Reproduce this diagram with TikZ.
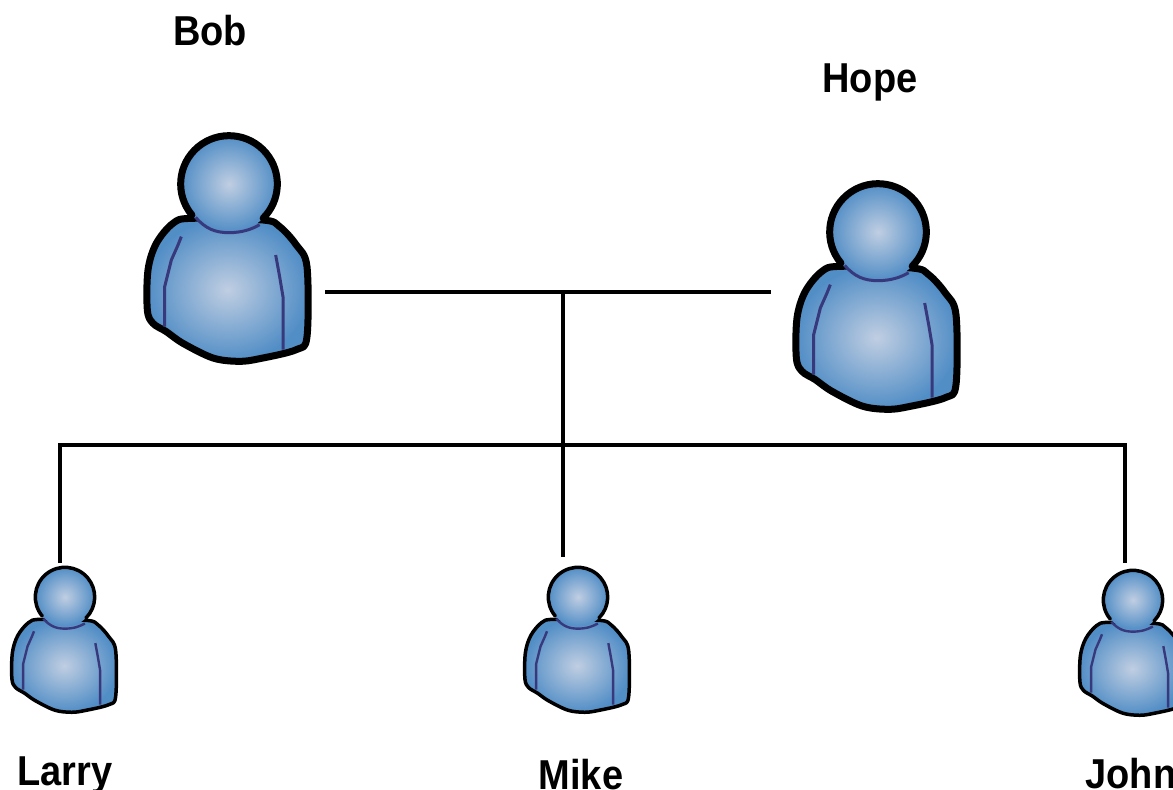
\documentclass[tikz,border=0pt]{standalone}
\usepackage{graphicx}
\usepackage{fontspec}
\setmainfont{Liberation Sans}
\definecolor{skinlight}{RGB}{192,206,226}
\definecolor{skindark}{RGB}{82,142,198}
\definecolor{seam}{RGB}{56,56,124}
\tikzset{
  px/.style={x=1pt,y=-1pt},
  thicklink/.style={draw=black,line width=4pt,line cap=butt},
  thinlink/.style={draw=black,line width=3.2pt,line cap=butt},
  namelabel/.style={font=\fontsize{38}{38}\selectfont\bfseries,anchor=base,inner sep=0pt,text=black},
  outline/.style={draw=black,line join=round},
  seamline/.style={draw=seam,line cap=butt,line join=round},
}
\newcommand{\tallname}[1]{\scalebox{1}[1.1]{#1}}
% #1 x, #2 y of head centre, #3 scale, #4 outline width, #5 seam width, #6 head radius
\newcommand{\personicon}[6]{%
\begin{scope}[shift={(#1,#2)},x=#3pt/3,y=-#3pt/3]
  \path[outline,line width=#4pt,inner color=skinlight,outer color=skindark]
    plot[smooth cycle,tension=.55] coordinates {(-113,103)(-168,118)(-218,178)(-243,258)(-245,378)(-228,418)(-188,443)(-138,478)(-48,522)(30,532)(92,524)(202,497)(234,458)(234,248)(202,183)(152,128)(102,108)};
  \path[draw=none,inner color=skinlight,outer color=skindark] (0,0) circle[radius=#6];
  \draw[outline,line width=#4pt,line cap=round] (140:#6) arc[start angle=140,end angle=405,radius=#6];
  \draw[seamline,line width=#5pt] (-100,100) .. controls (-70,135) and (-40,146) .. (0,146) .. controls (40,146) and (70,135) .. (92,122);
  \draw[seamline,line width=#5pt] (-143,158)--(-153,183)--(-173,228)--(-183,268)--(-193,308)--(-193,428);
  \draw[seamline,line width=#5pt] (140,213)--(152,278)--(162,338)--(162,497);
\end{scope}}
\begin{document}
\begin{tikzpicture}[px]
  \useasboundingbox (0,0) rectangle (1173,790);
  \clip (0,0) rectangle (1173,790);
  \personicon{229}{184}{1}{7}{3}{145}
  \personicon{878}{232}{1}{7}{3}{145}
  \personicon{65}{597}{.65}{3.5}{2.4}{137}
  \personicon{578}{597}{.65}{3.5}{2.4}{137}
  \personicon{1133}{600}{.65}{3.5}{2.4}{137}
  \node[namelabel] (bobname) at (210,45) {\tallname{Bob}};
  \node[namelabel] (hopename) at (870,92) {\tallname{Hope}};
  \node[namelabel] (larryname) at (65,785) {\tallname{Larry}};
  \node[namelabel] (mikename) at (581,789) {\tallname{Mike}};
  \node[namelabel] (johnname) at (1131,788) {\tallname{John}};
  \coordinate (bob) at (325,292);
  \coordinate (hope) at (771,292);
  \coordinate (couple) at (563,292);
  \coordinate (family) at (563,445);
  \coordinate (larrycorner) at (60,445);
  \coordinate (johncorner) at (1125,445);
  \coordinate (larry) at (60,563);
  \coordinate (mike) at (563,557);
  \coordinate (john) at (1125,563);
  \draw[thicklink] (bob) -- (hope);
  \draw[thicklink] (couple) -- (mike);
  \draw[thinlink] (larry) -- (larrycorner) -- (johncorner) -- (john);
\end{tikzpicture}
\end{document}
